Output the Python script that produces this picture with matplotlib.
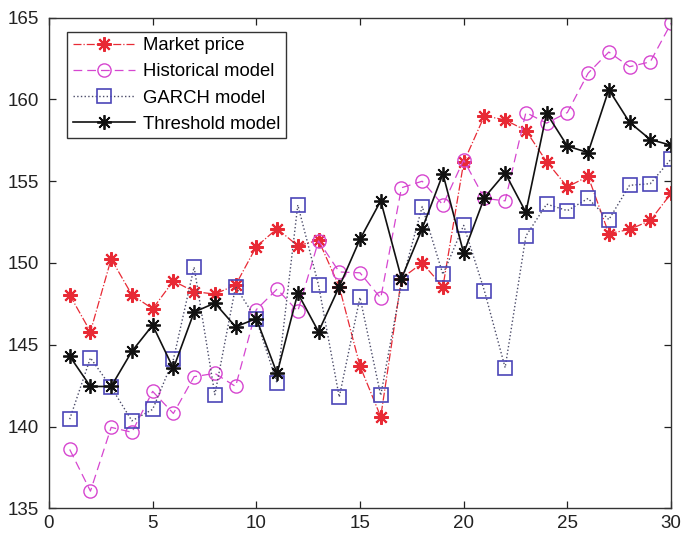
import matplotlib

matplotlib.use("Agg")

import matplotlib.pyplot as plt

plt.rcParams["font.family"] = ["Liberation Sans", "DejaVu Sans"]

days = list(range(1, 31))

market_price = [148.05, 145.8, 150.25, 148.05, 147.2, 148.9, 148.25, 148.1, 148.65, 151.0,
                152.1, 151.05, 151.4, 148.55, 143.7, 140.6, 149.05, 150.0, 148.55, 156.15,
                159.0, 158.75, 158.1, 156.2, 154.65, 155.3, 151.8, 152.05, 152.6, 154.25]
historical_model = [138.6, 136.05, 139.95, 139.65, 142.15, 140.8, 143.05, 143.25, 142.45, 147.15,
                    148.4, 147.05, 151.35, 149.45, 149.4, 147.85, 154.6, 155.0, 153.55, 156.3,
                    153.95, 153.8, 159.2, 158.55, 159.2, 161.6, 162.9, 162.0, 162.3, 164.65]
garch_model = [140.45, 144.2, 142.4, 140.35, 141.05, 144.1, 149.75, 141.95, 148.55, 146.55,
               142.65, 153.55, 148.65, 141.8, 147.9, 141.9, 148.75, 153.45, 149.3, 152.3,
               148.3, 143.6, 151.65, 153.6, 153.2, 153.95, 152.65, 154.75, 154.85, 156.35]
threshold_model = [144.3, 142.45, 142.45, 144.6, 146.2, 143.55, 147.0, 147.55, 146.1, 146.6,
                   143.25, 148.15, 145.8, 148.55, 151.45, 153.8, 149.05, 152.1, 155.45, 150.6,
                   154.0, 155.5, 153.1, 159.15, 157.15, 156.75, 160.6, 158.6, 157.55, 157.2]

x_ticks = [0, 5, 10, 15, 20, 25, 30]
y_ticks = [135, 140, 145, 150, 155, 160, 165]

# MATLAB style '*' marker: plus and cross together
asterisk = (8, 2, 0)

fig = plt.figure(figsize=(6.82, 5.34), dpi=100)
ax = fig.add_axes([0.0718, 0.0481, 0.9121, 0.9188])

ax.plot(days, market_price, linestyle="-.", color="#e82a35", linewidth=0.9,
        marker=asterisk, markersize=10.5, markeredgewidth=1.5, markeredgecolor="#e82a35",
        label="Market price")
ax.plot(days, historical_model, linestyle=(0, (7, 4)), color="#d646d0", linewidth=0.9,
        marker="o", markersize=9.5, markerfacecolor="none", markeredgecolor="#d646d0",
        markeredgewidth=1.0, label="Historical model")
ax.plot(days, garch_model, linestyle=":", color="#4a4a68", linewidth=1.0,
        marker="s", markersize=9.5, markerfacecolor="none", markeredgecolor="#4b46b8",
        markeredgewidth=1.2, label="GARCH model")
ax.plot(days, threshold_model, linestyle="-", color="#111111", linewidth=1.2,
        marker=asterisk, markersize=10.5, markeredgewidth=1.3, markeredgecolor="#111111",
        label="Threshold model")

ax.set_xlim(0, 30)
ax.set_ylim(135, 165)
ax.set_xticks(x_ticks)
ax.set_yticks(y_ticks)
ax.tick_params(direction="in", top=True, right=True, length=5, width=0.9,
               labelsize=13.5, colors="#222222")
ax.tick_params(axis="x", pad=5)
ax.tick_params(axis="y", pad=7)
for spine in ax.spines.values():
    spine.set_color("#333333")
    spine.set_linewidth(1.0)

leg = ax.legend(loc="upper left", bbox_to_anchor=(0.029, 0.971), fontsize=13.3,
                frameon=True, fancybox=False, edgecolor="#333333", framealpha=1,
                handlelength=3.4, handletextpad=0.4, labelspacing=0.49,
                borderpad=0.3, borderaxespad=0)
leg.get_frame().set_linewidth(1.0)

fig.savefig("out.png", dpi=100)
plt.close(fig)
